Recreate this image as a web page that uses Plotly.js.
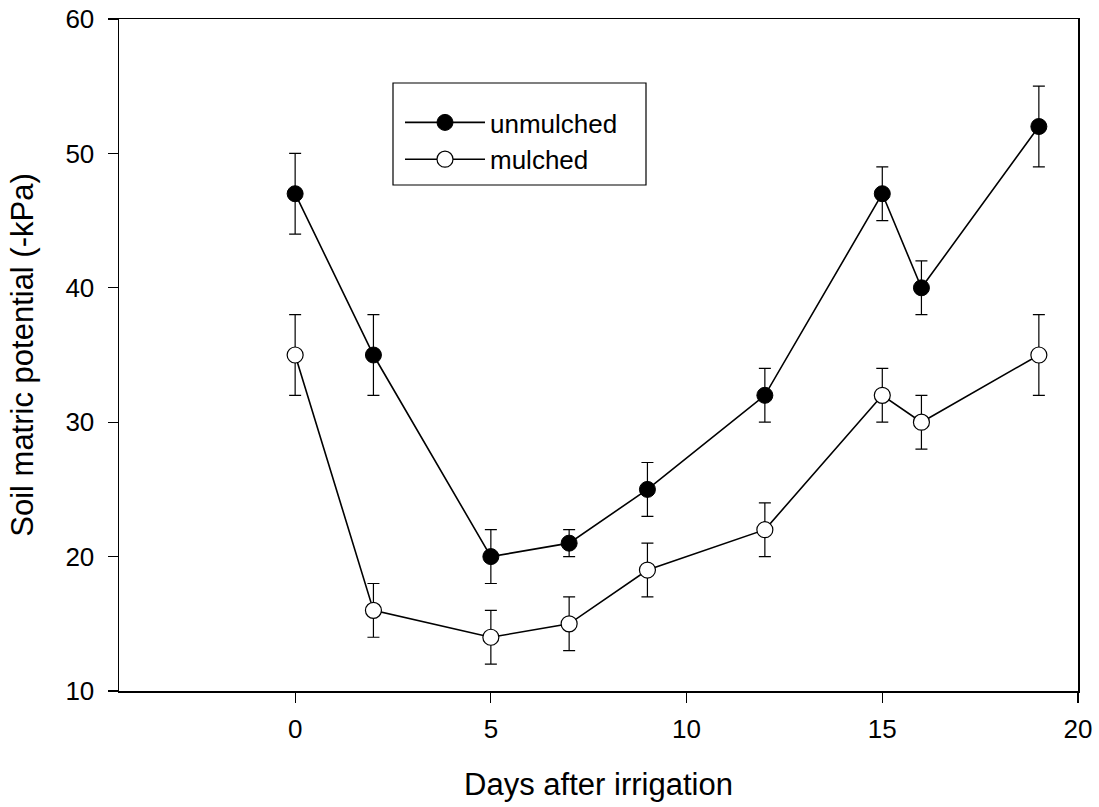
<!DOCTYPE html>
<html>
<head>
<meta charset="utf-8">
<script src="https://cdn.plot.ly/plotly-3.0.1.min.js"></script>
<style>html,body{margin:0;padding:0;background:#fff;}#chart{width:1099px;height:807px;}</style>
</head>
<body>
<div id="chart"></div>
<script>
const days = [0, 2, 5, 7, 9, 12, 15, 16, 19];
const unmulched = [47, 35, 20, 21, 25, 32, 47, 40, 52];
const unmulchedErr = [3, 3, 2, 1, 2, 2, 2, 2, 3];
const mulched = [35, 16, 14, 15, 19, 22, 32, 30, 35];
const mulchedErr = [3, 2, 2, 2, 2, 2, 2, 2, 3];
const xTicks = [0, 5, 10, 15, 20];
const yTicks = [10, 20, 30, 40, 50, 60];

const FONT = 'Liberation Sans, Arial, sans-serif';

const traces = [
  {
    x: days, y: unmulched, name: 'unmulched', type: 'scatter', mode: 'lines+markers',
    line: {color: '#000', width: 1.6},
    marker: {symbol: 'circle', size: 16, color: '#000', line: {color: '#000', width: 1}},
    error_y: {type: 'data', array: unmulchedErr, visible: true, color: '#000', thickness: 1.2, width: 6}
  },
  {
    x: days, y: mulched, name: 'mulched', type: 'scatter', mode: 'lines+markers',
    line: {color: '#000', width: 1.6},
    marker: {symbol: 'circle', size: 16, color: '#fff', line: {color: '#000', width: 1.2}},
    error_y: {type: 'data', array: mulchedErr, visible: true, color: '#000', thickness: 1.2, width: 6}
  }
];

const layout = {
  width: 1099, height: 807,
  margin: {l: 119, r: 21, t: 19, b: 116},
  paper_bgcolor: '#fff', plot_bgcolor: '#fff',
  font: {family: FONT, color: '#000', size: 26},
  showlegend: true,
  legend: {
    x: (400 - 119) / 959, y: (691 - 99) / 672, xanchor: 'left', yanchor: 'top',
    bgcolor: 'rgba(0,0,0,0)', borderwidth: 0, itemwidth: 80,
    font: {family: FONT, size: 26, color: '#000'},
    tracegroupgap: 0
  },
  xaxis: {
    range: [-4.5, 20], tickvals: xTicks, ticktext: xTicks.map(String),
    ticks: 'outside', ticklen: 10, tickwidth: 1.2, tickcolor: '#000',
    showline: true, linecolor: '#000', linewidth: 1.5, mirror: true,
    showgrid: false, zeroline: false,
    tickfont: {family: FONT, size: 26}, ticklabelstandoff: 4,
    title: {text: 'Days after irrigation', font: {family: FONT, size: 31}, standoff: 30}
  },
  yaxis: {
    range: [10, 60], tickvals: yTicks, ticktext: yTicks.map(String),
    ticks: 'outside', ticklen: 10, tickwidth: 1.2, tickcolor: '#000',
    showline: true, linecolor: '#000', linewidth: 1.5, mirror: true,
    showgrid: false, zeroline: false,
    tickfont: {family: FONT, size: 26}, ticklabelstandoff: 8,
    title: {text: 'Soil matric potential (-kPa)', font: {family: FONT, size: 31}, standoff: 22}
  },
  shapes: [
    {type: 'rect', xref: 'paper', yref: 'paper',
     x0: (393 - 119) / 959, x1: (646 - 119) / 959,
     y0: (691 - 185) / 672, y1: (691 - 83) / 672,
     line: {color: '#000', width: 1.2}, fillcolor: 'rgba(0,0,0,0)'}
  ]
};

Plotly.newPlot('chart', traces, layout, {displayModeBar: false, staticPlot: true});
</script>
</body>
</html>
